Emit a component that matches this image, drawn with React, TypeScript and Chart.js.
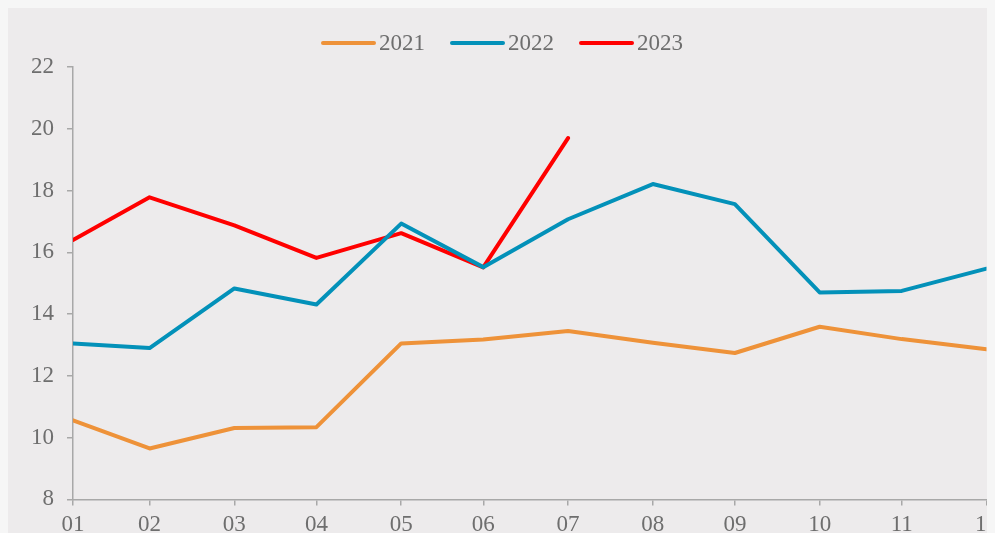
import React, { useEffect, useRef } from "react";
import { Chart, registerables } from "chart.js";

Chart.register(...registerables);

const months = ["01", "02", "03", "04", "05", "06", "07", "08", "09", "10", "11", "12"];
const series2021 = [10.56, 9.65, 10.31, 10.34, 13.05, 13.18, 13.45, 13.07, 12.74, 13.59, 13.19, 12.86];
const series2022 = [13.05, 12.9, 14.83, 14.31, 16.93, 15.52, 17.07, 18.21, 17.56, 14.7, 14.75, 15.47];
const series2023 = [16.4, 17.78, 16.87, 15.82, 16.62, 15.51, 19.7];
const seriesNames = ["2021", "2022", "2023"];
const yTicks = [8, 10, 12, 14, 16, 18, 20, 22];

const COLORS = ["#EE9239", "#0391B9", "#FF0000"];
const TEXT = "#6E6E6E";
const AXIS = "#A8A8A8";
const FONT = "'Liberation Serif', 'Times New Roman', serif";
const FS = 23;

// each monthly value sits on the last day of its month (day offset within the year)
const monthEnd = (m: number) => (Date.UTC(2021, m + 1, 0) - Date.UTC(2021, 0, 1)) / 86400000;
const monthDays = months.map((_, i) => monthEnd(i));

const toPoints = (vals: number[]) => vals.map((v, i) => ({ x: monthDays[i], y: v }));

// legend drawn as a line sample followed closely by the label
const legendPlugin = {
  id: "lineLegend",
  afterDraw(chart: any) {
    const ctx = chart.ctx as CanvasRenderingContext2D;
    const lineLen = 55;
    const gapText = 3;
    const gapItem = 25;
    const cx = 494;
    const cy = 35;
    ctx.save();
    ctx.font = `${FS}px ${FONT}`;
    const widths = seriesNames.map((t) => ctx.measureText(t).width);
    const total =
      widths.reduce((a, w) => a + lineLen + gapText + w, 0) + gapItem * (seriesNames.length - 1);
    let x = cx - total / 2;
    seriesNames.forEach((name, i) => {
      ctx.strokeStyle = COLORS[i];
      ctx.lineWidth = 4;
      ctx.lineCap = "round";
      ctx.beginPath();
      ctx.moveTo(x + 2, cy);
      ctx.lineTo(x + lineLen - 2, cy);
      ctx.stroke();
      ctx.fillStyle = TEXT;
      ctx.textAlign = "left";
      ctx.textBaseline = "middle";
      ctx.fillText(name, x + lineLen + gapText, cy + 1);
      x += lineLen + gapText + widths[i] + gapItem;
    });
    ctx.restore();
  },
};

export default function App() {
  const ref = useRef<HTMLCanvasElement | null>(null);

  useEffect(() => {
    document.body.style.background = "#F6F6F6";
    const canvas = ref.current;
    if (!canvas) return;
    const all = [series2021, series2022, series2023];
    const chart = new Chart(canvas, {
      type: "line",
      data: {
        datasets: all.map((vals, i) => ({
          label: seriesNames[i],
          data: toPoints(vals),
          borderColor: COLORS[i],
          backgroundColor: COLORS[i],
          borderWidth: 4,
          pointRadius: 0,
          pointHoverRadius: 0,
          tension: 0,
          borderCapStyle: "round" as const,
          borderJoinStyle: "round" as const,
          fill: false,
        })),
      },
      options: {
        responsive: false,
        animation: false,
        layout: { padding: { top: 59, left: 10, right: 0, bottom: 0 } },
        plugins: {
          tooltip: { enabled: false },
          legend: { display: false },
        },
        scales: {
          x: {
            type: "linear",
            min: monthDays[0],
            max: monthDays[monthDays.length - 1],
            afterBuildTicks: (axis: any) => {
              axis.ticks = monthDays.map((d) => ({ value: d }));
            },
            ticks: {
              autoSkip: false,
              maxRotation: 0,
              padding: 6,
              color: TEXT,
              font: { family: FONT, size: FS },
              callback: (value: any) => {
                const idx = monthDays.indexOf(Number(value));
                return idx >= 0 ? months[idx] : "";
              },
            },
            grid: {
              display: true,
              drawOnChartArea: false,
              drawTicks: true,
              tickLength: 6,
              color: AXIS,
              lineWidth: 1.5,
            },
            border: { display: true, color: AXIS, width: 1.5 },
          },
          y: {
            type: "linear",
            min: yTicks[0],
            max: yTicks[yTicks.length - 1],
            afterBuildTicks: (axis: any) => {
              axis.ticks = yTicks.map((v) => ({ value: v }));
            },
            ticks: {
              padding: 13,
              color: TEXT,
              font: { family: FONT, size: FS },
              callback: (v: any) => String(v),
            },
            grid: {
              display: true,
              drawOnChartArea: false,
              drawTicks: true,
              tickLength: 6,
              color: AXIS,
              lineWidth: 1.5,
            },
            border: { display: true, color: AXIS, width: 1.5 },
          },
        },
      },
      plugins: [legendPlugin],
    } as any);
    return () => chart.destroy();
  }, []);

  return (
    <div
      style={{
        position: "relative",
        width: 983,
        height: 525,
        overflow: "hidden",
        background: "#EDEBEC",
      }}
    >
      <canvas ref={ref} width={996} height={537} style={{ display: "block" }} />
    </div>
  );
}
